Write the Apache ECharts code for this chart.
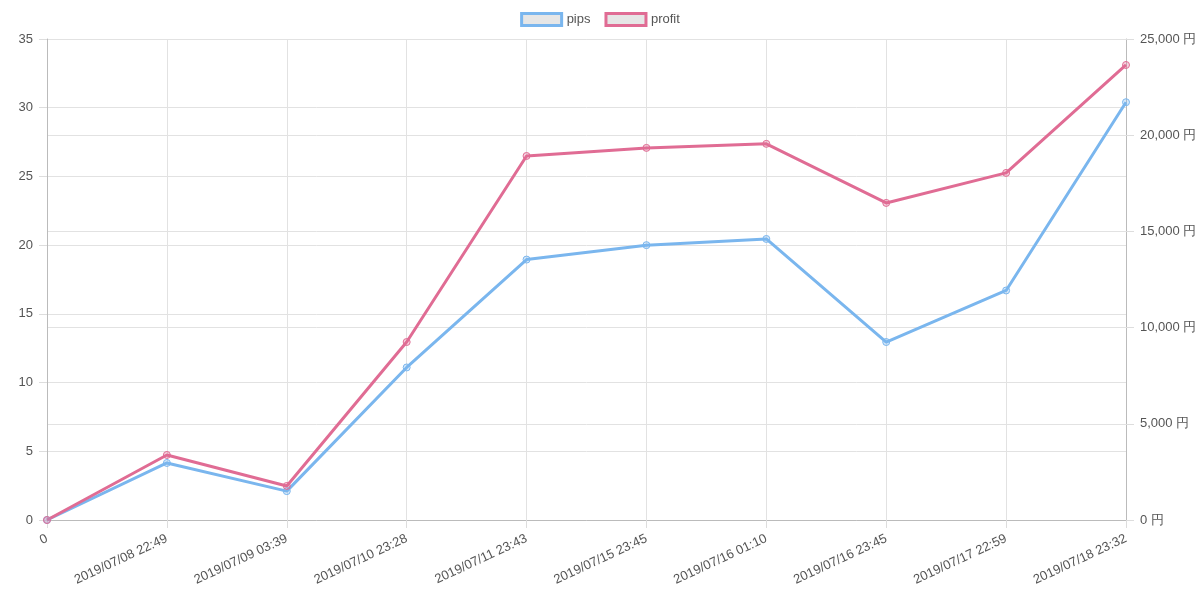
<!DOCTYPE html>
<html><head><meta charset="utf-8">
<script src="https://cdn.jsdelivr.net/npm/echarts@6/dist/echarts.min.js"></script>
<style>html,body{margin:0;padding:0;background:#fff}#c{width:1200px;height:593px}</style>
</head><body><div id="c"></div>
<script>
const categories = ["0","2019/07/08 22:49","2019/07/09 03:39","2019/07/10 23:28","2019/07/11 23:43","2019/07/15 23:45","2019/07/16 01:10","2019/07/16 23:45","2019/07/17 22:59","2019/07/18 23:32"];
const pips = [0,4.15,2.1,11.1,18.95,20.0,20.45,12.95,16.7,30.4];
const profit = [0,3380,1770,9250,18920,19340,19550,16480,18040,23650];
const pipsColor = 'rgb(122,182,238)';
const profitColor = 'rgb(224,108,148)';
const chart = echarts.init(document.getElementById('c'));
const lbl = {color:'#555', fontSize:13, fontFamily:'Helvetica, Arial, sans-serif'};
chart.setOption({
  animation:false,
  legend:{top:7, left:'center', icon:'rect', itemWidth:40, itemHeight:12, itemGap:14,
    textStyle:{color:'#555', fontSize:13},
    data:[{name:'pips', itemStyle:{color:'#e6e6e6', borderColor:pipsColor, borderWidth:3}},
          {name:'profit', itemStyle:{color:'#e6e6e6', borderColor:profitColor, borderWidth:3}}]},
  grid:{left:47, right:74, top:39, bottom:73, containLabel:false},
  xAxis:{type:'category', data:categories, boundaryGap:false,
    axisLine:{lineStyle:{color:'#bbb'}}, axisTick:{show:true, length:8, lineStyle:{color:'#ddd'}},
    axisLabel:Object.assign({rotate:25, interval:0, margin:18}, lbl),
    splitLine:{show:true, lineStyle:{color:'#e2e2e2'}}},
  yAxis:[
    {type:'value', min:0, max:35, interval:5, position:'left',
     axisLine:{show:true, lineStyle:{color:'#bbb'}}, axisTick:{show:true, length:8, lineStyle:{color:'#ddd'}},
     axisLabel:Object.assign({margin:14}, lbl), splitLine:{lineStyle:{color:'#e2e2e2'}}},
    {type:'value', min:0, max:25000, interval:5000, position:'right',
     axisLine:{show:true, lineStyle:{color:'#bbb'}}, axisTick:{show:true, length:8, lineStyle:{color:'#ddd'}},
     axisLabel:Object.assign({margin:14, formatter:v=>v.toLocaleString('en-US')+' 円'}, lbl),
     splitLine:{lineStyle:{color:'#e2e2e2'}}}
  ],
  series:[
    {name:'pips', type:'line', yAxisIndex:0, data:pips, symbol:'circle', symbolSize:7,
     lineStyle:{color:pipsColor, width:3}, itemStyle:{color:'rgba(122,182,238,0.3)', borderColor:pipsColor, borderWidth:1}},
    {name:'profit', type:'line', yAxisIndex:1, data:profit, symbol:'circle', symbolSize:7,
     lineStyle:{color:profitColor, width:3}, itemStyle:{color:'rgba(224,108,148,0.3)', borderColor:profitColor, borderWidth:1}}
  ]
});
</script></body></html>
